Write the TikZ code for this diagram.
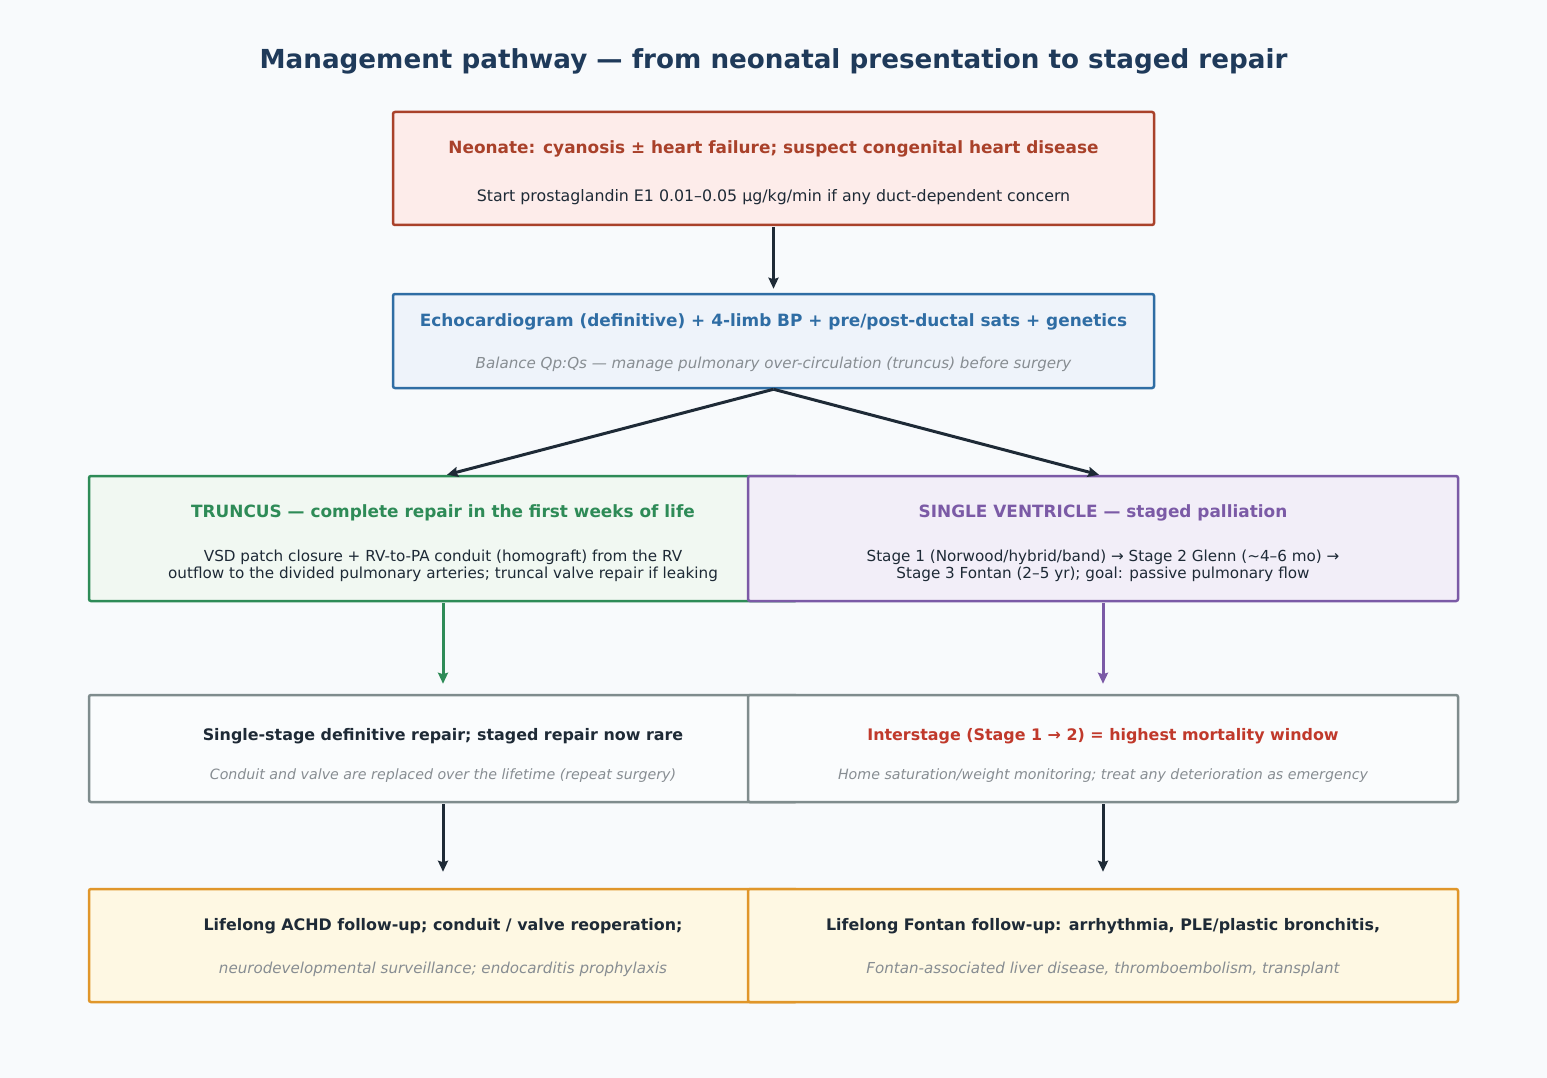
\documentclass[tikz,border=0pt]{standalone}
\usepackage{fontspec}
\setmainfont{DejaVu Sans}
\usetikzlibrary{shapes,arrows.meta}
\definecolor{bgcol}{HTML}{F8FAFC}
\definecolor{navy}{HTML}{1F3A5A}
\definecolor{ink}{HTML}{1E2A36}
\definecolor{note}{HTML}{878D92}
\definecolor{neoline}{HTML}{A9412A}
\definecolor{neofill}{HTML}{FDECEA}
\definecolor{echoline}{HTML}{2F6DA4}
\definecolor{echofill}{HTML}{EEF3FA}
\definecolor{trline}{HTML}{2E8B57}
\definecolor{trfill}{HTML}{F1F8F2}
\definecolor{svline}{HTML}{7B5AA6}
\definecolor{svfill}{HTML}{F2EEF8}
\definecolor{grayline}{HTML}{7F8C8D}
\definecolor{grayfill}{HTML}{FAFCFD}
\definecolor{alert}{HTML}{C0392B}
\definecolor{lifeline}{HTML}{E0962A}
\definecolor{lifefill}{HTML}{FEF8E3}
\tikzset{
	box/.style      = {draw, rounded corners=2pt, line width=2.5pt, inner sep=0pt},
	head/.style     = {font=\fontsize{16.9}{20}\selectfont\bfseries},
	headsm/.style   = {font=\fontsize{15.9}{19}\selectfont\bfseries},
	body/.style     = {font=\fontsize{15.8}{17.5}\selectfont, text=ink, align=center},
	bodysm/.style   = {font=\fontsize{15.2}{17.5}\selectfont, text=ink, align=center},
	aside/.style    = {font=\fontsize{15.1}{18}\selectfont\itshape, text=note},
	asidesm/.style  = {font=\fontsize{14.2}{17}\selectfont\itshape, text=note},
	flow/.style     = {->, line width=3pt, draw=ink}
}

\begin{document}
\begin{tikzpicture}[x=1pt, y=-1pt, >={Stealth[length=11pt,width=10pt,inset=1.5pt]}]
	\fill[bgcol] (0,0) rectangle (1547,1078);
	\node[font=\fontsize{26.2}{30}\selectfont\bfseries, text=navy] (title) at (773.5,61) {Management pathway — from neonatal presentation to staged repair};

	% top of the pathway
	\node[box, draw=neoline, fill=neofill, minimum width=761pt, minimum height=113pt] (neo) at (773.5,168.5) {};
	\node[head, text=neoline] (neoh) at ([yshift=-38pt]neo.north) {Neonate: cyanosis ± heart failure; suspect congenital heart disease};
	\node[body] (neob) at ([yshift=-86pt]neo.north) {Start prostaglandin E1 0.01–0.05 µg/kg/min if any duct-dependent concern};

	\node[box, draw=echoline, fill=echofill, minimum width=761pt, minimum height=94pt] (echo) at (773.5,341) {};
	\node[head, text=echoline] (echoh) at ([yshift=-29pt]echo.north) {Echocardiogram (definitive) + 4-limb BP + pre/post-ductal sats + genetics};
	\node[aside] (echob) at ([yshift=-72pt]echo.north) {Balance Qp:Qs — manage pulmonary over-circulation (truncus) before surgery};

	% left branch
	\node[box, draw=trline, fill=trfill, minimum width=708pt, minimum height=125pt] (tr) at (443,538.5) {};
	\node[head, text=trline] (trh) at ([yshift=-38pt]tr.north) {TRUNCUS — complete repair in the first weeks of life};
	\node[bodysm] (trb) at ([yshift=-91pt]tr.north) {VSD patch closure + RV-to-PA conduit (homograft) from the RV\\outflow to the divided pulmonary arteries; truncal valve repair if leaking};

	\node[box, draw=grayline, fill=grayfill, minimum width=708pt, minimum height=107pt] (one) at (443,748.5) {};
	\node[headsm, text=ink] (oneh) at ([yshift=-42pt]one.north) {Single-stage definitive repair; staged repair now rare};
	\node[asidesm] (oneb) at ([yshift=-82pt]one.north) {Conduit and valve are replaced over the lifetime (repeat surgery)};

	\node[box, draw=lifeline, fill=lifefill, minimum width=708pt, minimum height=113pt] (achd) at (443,945.5) {};
	\node[headsm, text=ink] (achdh) at ([yshift=-38pt]achd.north) {Lifelong ACHD follow-up; conduit / valve reoperation;};
	\node[aside] (achdb) at ([yshift=-82pt]achd.north) {neurodevelopmental surveillance; endocarditis prophylaxis};

	% right branch
	\node[box, draw=svline, fill=svfill, minimum width=710pt, minimum height=125pt] (sv) at (1103,538.5) {};
	\node[head, text=svline] (svh) at ([yshift=-38pt]sv.north) {SINGLE VENTRICLE — staged palliation};
	\node[bodysm] (svb) at ([yshift=-91pt]sv.north) {Stage 1 (Norwood/hybrid/band) → Stage 2 Glenn (\textasciitilde4–6 mo) →\\Stage 3 Fontan (2–5 yr); goal: passive pulmonary flow};

	\node[box, draw=grayline, fill=grayfill, minimum width=710pt, minimum height=107pt] (inter) at (1103,748.5) {};
	\node[headsm, text=alert] (interh) at ([yshift=-42pt]inter.north) {Interstage (Stage 1 → 2) = highest mortality window};
	\node[asidesm] (interb) at ([yshift=-82pt]inter.north) {Home saturation/weight monitoring; treat any deterioration as emergency};

	\node[box, draw=lifeline, fill=lifefill, minimum width=710pt, minimum height=113pt] (fontan) at (1103,945.5) {};
	\node[headsm, text=ink] (fontanh) at ([yshift=-38pt]fontan.north) {Lifelong Fontan follow-up: arrhythmia, PLE/plastic bronchitis,};
	\node[aside] (fontanb) at ([yshift=-82pt]fontan.north) {Fontan-associated liver disease, thromboembolism, transplant};

	% connectors
	\draw[flow, shorten <=1pt, shorten >=4pt] (neo) -- (echo);
	\draw[flow] (echo.south) -- ([xshift=4pt]tr.north);
	\draw[flow] (echo.south) -- ([xshift=-4pt]sv.north);
	\draw[flow, draw=trline, shorten <=1pt, shorten >=10pt] (tr) -- (one);
	\draw[flow, draw=svline, shorten <=1pt, shorten >=10pt] (sv) -- (inter);
	\draw[flow, shorten <=1pt, shorten >=16pt] (one) -- (achd);
	\draw[flow, shorten <=1pt, shorten >=16pt] (inter) -- (fontan);
\end{tikzpicture}
\end{document}
